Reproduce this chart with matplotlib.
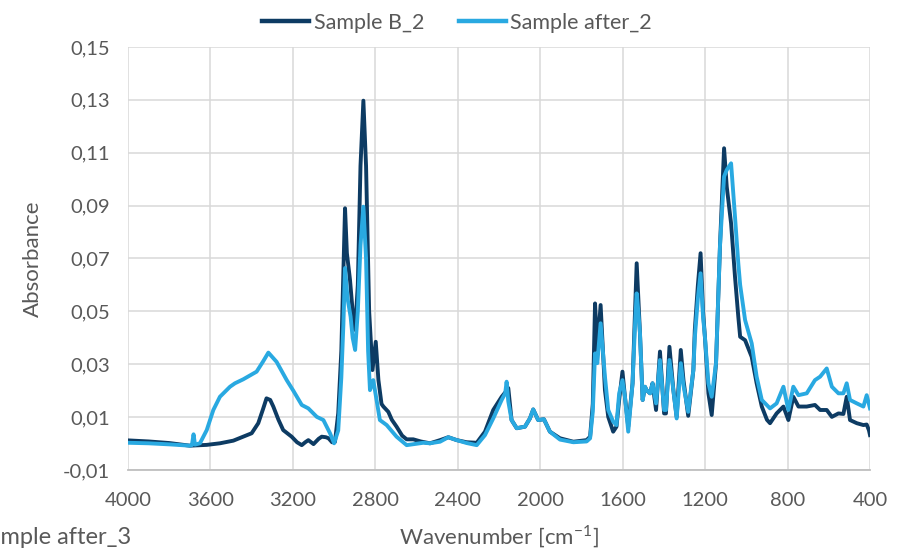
import matplotlib
matplotlib.use("Agg")
import matplotlib.pyplot as plt
from matplotlib.ticker import FuncFormatter, FixedLocator

plt.rcParams['font.family'] = ['Lato', 'DejaVu Sans']
plt.rcParams['mathtext.fontset'] = 'custom'
plt.rcParams['mathtext.rm'] = 'Lato'

# ---- data ----
wn_b = [4000, 3900, 3800, 3700, 3618, 3554, 3489, 3441, 3400, 3368, 3345, 3328, 3310, 3295,
        3270, 3247, 3206, 3180, 3157, 3140, 3125, 3100, 3075, 3060, 3040, 3027, 3010, 2996,
        2980, 2965, 2955, 2947, 2938, 2923, 2910, 2898, 2885, 2872, 2858, 2845, 2830, 2814,
        2806, 2798, 2785, 2770, 2761, 2737, 2720, 2697, 2670, 2648, 2616, 2580, 2535, 2486,
        2446, 2405, 2357, 2308, 2268, 2228, 2187, 2163, 2155, 2139, 2114, 2074, 2050, 2034,
        2010, 1982, 1953, 1904, 1839, 1775, 1758, 1745, 1734, 1723, 1707, 1686, 1670, 1646,
        1630, 1617, 1601, 1589, 1573, 1552, 1540, 1532, 1524, 1516, 1503, 1492, 1484, 1467,
        1455, 1438, 1419, 1399, 1390, 1373, 1354, 1338, 1318, 1305, 1282, 1257, 1250, 1235,
        1222, 1210, 1201, 1184, 1168, 1147, 1128, 1108, 1095, 1074, 1055, 1039, 1030, 1006,
        974, 950, 925, 900, 885, 853, 820, 796, 772, 747, 707, 667, 642, 610, 585, 553, 529,
        513, 497, 464, 432, 416, 405, 400]
abs_b = [0.0012, 0.0008, 0.0002, -0.0008, -0.0005, 0.0001, 0.0011, 0.0026, 0.0039, 0.0077,
         0.0130, 0.0171, 0.0165, 0.0140, 0.0090, 0.0051, 0.0026, 0.0005, -0.0006, 0.0005,
         0.0013, -0.0002, 0.0018, 0.0026, 0.0024, 0.0020, 0.0005, 0.0006, 0.0115, 0.0350,
         0.0650, 0.0890, 0.0720, 0.0620, 0.0500, 0.0430, 0.0600, 0.1050, 0.1297, 0.1050,
         0.0500, 0.0278, 0.0330, 0.0385, 0.0240, 0.0150, 0.0140, 0.0120, 0.0090, 0.0064,
         0.0030, 0.0016, 0.0016, 0.0008, 0.0001, 0.0013, 0.0024, 0.0013, 0.0005, 0.0003,
         0.0045, 0.0127, 0.0177, 0.0200, 0.0210, 0.0089, 0.0058, 0.0064, 0.0095, 0.0129,
         0.0089, 0.0092, 0.0045, 0.0020, 0.0007, 0.0013, 0.0026, 0.0150, 0.0530, 0.0354,
         0.0524, 0.0202, 0.0101, 0.0045, 0.0064, 0.0165, 0.0272, 0.0177, 0.0064, 0.0228,
         0.0500, 0.0682, 0.0550, 0.0417, 0.0165, 0.0215, 0.0202, 0.0190, 0.0228, 0.0127,
         0.0348, 0.0114, 0.0114, 0.0366, 0.0202, 0.0101, 0.0354, 0.0240, 0.0105, 0.0278,
         0.0430, 0.0600, 0.0720, 0.0500, 0.0404, 0.0190, 0.0108, 0.0304, 0.0745, 0.1117,
         0.0971, 0.0833, 0.0631, 0.0480, 0.0404, 0.0391, 0.0328, 0.0228, 0.0140, 0.0090,
         0.0077, 0.0114, 0.0140, 0.0089, 0.0177, 0.0140, 0.0140, 0.0146, 0.0127, 0.0127,
         0.0101, 0.0114, 0.0112, 0.0177, 0.0089, 0.0077, 0.0070, 0.0072, 0.0050, 0.0032]

wn_a = [4000, 3900, 3800, 3700, 3690, 3682, 3675, 3651, 3618, 3586, 3554, 3505, 3481, 3441,
        3376, 3345, 3319, 3279, 3230, 3198, 3157, 3125, 3084, 3052, 3020, 3000, 2980, 2965,
        2955, 2947, 2935, 2920, 2910, 2898, 2885, 2872, 2858, 2845, 2835, 2826, 2810, 2794,
        2778, 2745, 2697, 2648, 2567, 2535, 2486, 2446, 2405, 2357, 2308, 2268, 2228, 2187,
        2170, 2163, 2155, 2139, 2114, 2074, 2050, 2034, 2010, 1982, 1953, 1904, 1839, 1775,
        1758, 1745, 1734, 1723, 1707, 1686, 1670, 1646, 1630, 1617, 1601, 1589, 1573, 1552,
        1540, 1532, 1524, 1516, 1503, 1492, 1484, 1467, 1455, 1438, 1419, 1399, 1390, 1373,
        1354, 1338, 1318, 1305, 1282, 1257, 1250, 1235, 1222, 1210, 1201, 1184, 1168, 1147,
        1128, 1108, 1095, 1074, 1055, 1039, 1030, 1006, 974, 950, 925, 885, 853, 820, 796,
        772, 747, 707, 667, 642, 610, 585, 553, 529, 513, 497, 464, 432, 416, 400]
abs_a = [0.0003, 0.0001, -0.0003, -0.0008, -0.0006, 0.0035, -0.0004, 0.0001, 0.0051, 0.0127,
         0.0177, 0.0215, 0.0228, 0.0243, 0.0272, 0.0310, 0.0344, 0.0309, 0.0240, 0.0200,
         0.0146, 0.0133, 0.0101, 0.0089, 0.0039, 0.0001, 0.0050, 0.0250, 0.0450, 0.0664,
         0.0550, 0.0480, 0.0400, 0.0354, 0.0500, 0.0750, 0.0896, 0.0700, 0.0350, 0.0202,
         0.0240, 0.0165, 0.0089, 0.0070, 0.0026, -0.0006, 0.0003, 0.0001, 0.0007, 0.0024,
         0.0013, 0.0002, -0.0006, 0.0032, 0.0095, 0.0165, 0.0190, 0.0234, 0.0160, 0.0089,
         0.0058, 0.0064, 0.0095, 0.0129, 0.0089, 0.0092, 0.0045, 0.0015, 0.0005, 0.0008,
         0.0020, 0.0120, 0.0341, 0.0304, 0.0455, 0.0253, 0.0127, 0.0083, 0.0070, 0.0190,
         0.0240, 0.0177, 0.0045, 0.0228, 0.0450, 0.0568, 0.0500, 0.0417, 0.0165, 0.0215,
         0.0202, 0.0190, 0.0228, 0.0152, 0.0316, 0.0127, 0.0127, 0.0316, 0.0202, 0.0095,
         0.0304, 0.0220, 0.0120, 0.0278, 0.0400, 0.0550, 0.0644, 0.0480, 0.0404, 0.0228,
         0.0177, 0.0304, 0.0745, 0.1010, 0.1035, 0.1060, 0.0858, 0.0682, 0.0600, 0.0467,
         0.0379, 0.0253, 0.0165, 0.0133, 0.0152, 0.0215, 0.0127, 0.0215, 0.0183, 0.0190,
         0.0240, 0.0253, 0.0284, 0.0215, 0.0190, 0.0190, 0.0228, 0.0165, 0.0152, 0.0140,
         0.0183, 0.0133]

series_names = ["Sample B_2", "Sample after_2"]
cut_legend_label = "Sample after_3"
x_ticks = [4000, 3600, 3200, 2800, 2400, 2000, 1600, 1200, 800, 400]
y_ticks = [-0.01, 0.01, 0.03, 0.05, 0.07, 0.09, 0.11, 0.13, 0.15]

# ---- figure ----
fig = plt.figure(figsize=(9.14, 5.56), dpi=100)
ax = fig.add_axes([128/914, 1-470/556, 742/914, 423/556])

c_dark = "#0d3b63"
c_light = "#29a9e1"
ax.plot(wn_b, abs_b, color=c_dark, lw=2.8, solid_joinstyle='round', label=series_names[0], zorder=3)
ax.plot(wn_a, abs_a, color=c_light, lw=2.8, solid_joinstyle='round', label=series_names[1], zorder=4)

ax.set_xlim(4000, 400)
ax.set_ylim(-0.01, 0.15)
ax.set_xticks(x_ticks)
ax.yaxis.set_major_locator(FixedLocator(y_ticks))
ax.yaxis.set_major_formatter(FuncFormatter(lambda v, p: f"{v:.2f}".replace('.', ',')))
ax.grid(True, color="#d9d9d9", lw=1.1, zorder=0)
ax.set_axisbelow(True)
for s in ['top', 'right', 'left']:
    ax.spines[s].set_visible(False)
ax.spines['bottom'].set_color('#bfbfbf')
ax.spines['bottom'].set_linewidth(1.3)
ax.tick_params(axis='both', length=0, labelsize=14.5, colors='#595959')
ax.tick_params(axis='x', pad=16)
ax.tick_params(axis='y', pad=13)

ax.set_xlabel("Wavenumber [cm$^{\\mathregular{-1}}$]", fontsize=16, color='#595959', labelpad=10)
ax.set_ylabel("Absorbance", fontsize=16, color='#595959', labelpad=14)

leg = fig.legend(loc='upper center', bbox_to_anchor=(0.5, 1.012), ncol=2, frameon=False,
                 fontsize=15.5, handlelength=2.2, columnspacing=1.6, handletextpad=0.2)
for t in leg.get_texts():
    t.set_color('#595959')
for h in leg.get_lines():
    h.set_linewidth(3.2)

# partially visible legend entry of another series, cut by the left edge as in the reference
fig.text(-24/914, 1-537/556, cut_legend_label, ha='left', va='center', fontsize=17, color='#595959')

fig.savefig("out.png", dpi=100)
